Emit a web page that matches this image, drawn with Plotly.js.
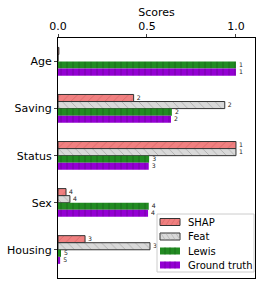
<!DOCTYPE html>
<html><head><meta charset="utf-8">
<script src="https://cdn.plot.ly/plotly-3.0.1.min.js"></script>
<style>html,body{margin:0;padding:0;background:#fff}#c{width:266px;height:285px}</style>
</head><body><div id="c"></div>
<script>
const features = ["Age", "Saving", "Status", "Sex", "Housing"];
const shapVals = [0.005, 0.425, 1.0, 0.045, 0.152];
const featVals = [0.0, 0.937, 1.0, 0.067, 0.517];
const lewisVals = [1.0, 0.64, 0.512, 0.51, 0.017];
const gtVals = [1.0, 0.635, 0.51, 0.506, 0.012];
const shapRank = ["", "2", "1", "4", "3"];
const featRank = ["", "2", "1", "4", "3"];
const lewisRank = ["1", "2", "3", "4", "5"];
const gtRank = ["1", "2", "3", "4", "5"];
const seriesNames = ["SHAP", "Feat", "Lewis", "Ground truth"];
const seriesColors = ['#f08080', '#d9d9d9', '#228b22', '#9400d3'];
const hatchColors = ['#d86a6a', '#b0b0b0', '#186818', '#7000a0'];
const edgeColors = ['#333', '#333', '#228b22', '#9400d3'];
const hatchShapes = ['/', '\\', '|', '|'];

function tr(i, vals, ranks){
  return {type:'bar', orientation:'h', name:seriesNames[i], y:features, x:vals, text:ranks,
    textposition:'outside', cliponaxis:false, showlegend:false,
    textfont:{size:7, color:'#222', family:'DejaVu Sans'},
    marker:{color:seriesColors[i], line:{color:edgeColors[i], width:i<2?1:0},
      pattern:{shape:hatchShapes[i], bgcolor:seriesColors[i], fgcolor:hatchColors[i], fillmode:'replace', size:6, solidity:0.15}}};
}
const data = [tr(0, shapVals, shapRank), tr(1, featVals, featRank), tr(2, lewisVals, lewisRank), tr(3, gtVals, gtRank)];

// manual legend (plot-area paper coords)
const PX0 = 58, PW = 197, PY1 = 278, PH = 240;
const px = v => (v - PX0) / PW, py = v => (PY1 - v) / PH;
const shapes = [{type:'rect', xref:'paper', yref:'paper', x0:px(157), x1:px(254), y0:py(272), y1:py(214),
  fillcolor:'rgba(255,255,255,0.9)', line:{color:'#ccc', width:1}}];
const annotations = [];
const rowY = [222, 236.5, 251, 265];
seriesNames.forEach((n, i) => {
  const yc = rowY[i];
  shapes.push({type:'rect', xref:'paper', yref:'paper', x0:px(160), x1:px(180), y0:py(yc+3.5), y1:py(yc-3.5),
    fillcolor:seriesColors[i], line:{color:edgeColors[i], width:i<2?1:0}});
  if (i < 2) {
    for (let k = 0; k < 4; k++) {
      const xs = 161 + k*5;
      const dir = i === 0 ? 1 : -1;
      shapes.push({type:'line', xref:'paper', yref:'paper',
        x0:px(xs), x1:px(xs+4), y0:py(dir>0? yc+3 : yc-3), y1:py(dir>0? yc-3 : yc+3),
        line:{color:hatchColors[i], width:0.7}});
    }
  } else {
    for (let k = 1; k < 4; k++) {
      shapes.push({type:'line', xref:'paper', yref:'paper', x0:px(160+k*5), x1:px(160+k*5),
        y0:py(yc+3.5), y1:py(yc-3.5), line:{color:hatchColors[i], width:0.7}});
    }
  }
  annotations.push({xref:'paper', yref:'paper', x:px(186), y:py(yc), xanchor:'left', yanchor:'middle',
    text:n, showarrow:false, font:{size:10, family:'DejaVu Sans', color:'#000'}});
});

const layout = {
  width:266, height:285, margin:{l:58, r:11, t:38, b:7},
  paper_bgcolor:'#fff', plot_bgcolor:'#fff',
  barmode:'group', bargap:0.4, bargroupgap:0,
  font:{family:'DejaVu Sans', size:11, color:'#000'},
  showlegend:false,
  shapes:shapes, annotations:annotations,
  xaxis:{side:'top', range:[0, 1.107], tickvals:[0, 0.5, 1.0], ticktext:['0.0','0.5','1.0'],
    ticks:'outside', ticklen:3, showgrid:false, zeroline:false, showline:true, linecolor:'#000', linewidth:1, mirror:true,
    title:{text:'Scores', font:{size:11}, standoff:0}, tickfont:{size:11}},
  yaxis:{autorange:false, range:[4.6, -0.5], ticks:'outside', ticklen:3, showgrid:false, zeroline:false,
    showline:true, linecolor:'#000', linewidth:1, mirror:true, tickfont:{size:11}}
};
Plotly.newPlot('c', data, layout, {displayModeBar:false, staticPlot:true});
</script></body></html>
